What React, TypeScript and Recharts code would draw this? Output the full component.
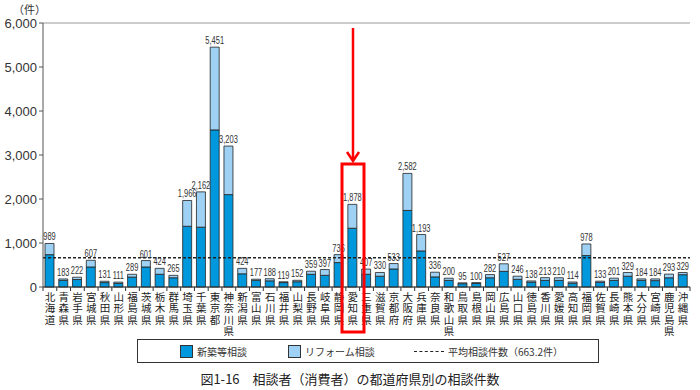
import React from "react";
import {
  BarChart,
  Bar,
  XAxis,
  YAxis,
  CartesianGrid,
  ReferenceLine,
  LabelList,
} from "recharts";

const prefectures = [
  "北海道", "青森県", "岩手県", "宮城県", "秋田県", "山形県", "福島県", "茨城県",
  "栃木県", "群馬県", "埼玉県", "千葉県", "東京都", "神奈川県", "新潟県", "富山県",
  "石川県", "福井県", "山梨県", "長野県", "岐阜県", "静岡県", "愛知県", "三重県",
  "滋賀県", "京都府", "大阪府", "兵庫県", "奈良県", "和歌山県", "鳥取県", "島根県",
  "岡山県", "広島県", "山口県", "徳島県", "香川県", "愛媛県", "高知県", "福岡県",
  "佐賀県", "長崎県", "熊本県", "大分県", "宮崎県", "鹿児島県", "沖縄県",
];

// 新築等相談
const newBuild = [
  735, 150, 170, 455, 100, 80, 225, 455, 290, 210, 1380, 1360, 3570, 2100, 300, 150,
  140, 100, 120, 290, 265, 555, 1335, 290, 245, 410, 1740, 820, 230, 150, 75, 80,
  210, 355, 175, 110, 150, 150, 85, 715, 105, 150, 245, 150, 145, 210, 280,
];

// リフォーム相談
const reform = [
  254, 33, 52, 152, 31, 31, 64, 146, 134, 55, 586, 802, 1881, 1103, 124, 27,
  48, 19, 32, 69, 132, 181, 543, 117, 85, 123, 842, 373, 106, 50, 20, 20,
  72, 172, 71, 28, 63, 60, 29, 263, 28, 51, 84, 34, 39, 83, 49,
];

const yTicks = [0, 1000, 2000, 3000, 4000, 5000, 6000];
const average = 663.2;

const DARK = "#0098dc";
const LIGHT = "#9ed1f3";
const W = 700;
const H = 390;
const M = { top: 23, right: 10, left: 0, bottom: 0 };
const Y_W = 43;
const BAND = (W - M.left - M.right - Y_W) / prefectures.length;

const data = prefectures.map((name, i) => ({
  name,
  newBuild: newBuild[i],
  reform: reform[i],
  total: newBuild[i] + reform[i],
}));

const jp = '"Noto Sans CJK JP", "Noto Sans", sans-serif';
const sans = '"Liberation Sans", Arial, sans-serif';

function PrefTick(props: any) {
  const { x, payload, index } = props;
  const chars: string[] = payload.value.split("");
  const top = 287;
  return (
    <g>
      <line x1={x - BAND / 2} x2={x - BAND / 2} y1={top} y2={top + 4} stroke="#333" />
      {index === prefectures.length - 1 && (
        <line x1={x + BAND / 2} x2={x + BAND / 2} y1={top} y2={top + 4} stroke="#333" />
      )}
      {chars.map((c, i) => (
        <text
          key={i}
          x={x}
          y={top + 14 + i * 11.3}
          textAnchor="middle"
          fontSize={10.5}
          fontFamily={jp}
          fill="#222"
        >
          {c}
        </text>
      ))}
    </g>
  );
}

function TotalLabel(props: any) {
  const { x, y, width, index } = props;
  return (
    <text
      transform={`translate(${x + width / 2},${y - 3}) scale(0.68,1)`}
      textAnchor="middle"
      fontSize={11}
      fontFamily={sans}
      fill="#333"
    >
      {data[index].total.toLocaleString("en-US")}
    </text>
  );
}

export default function App() {
  return (
    <div style={{ position: "fixed", left: 0, top: 0, width: W, height: H, background: "#fff" }}>
      <BarChart width={W} height={H} data={data} margin={M}>
        <CartesianGrid vertical={false} stroke="#999" />
        <XAxis
          dataKey="name"
          interval={0}
          height={H - 287}
          tickLine={false}
          axisLine={{ stroke: "#333" }}
          tick={<PrefTick />}
        />
        <YAxis
          yAxisId="l"
          domain={[0, 6000]}
          ticks={yTicks}
          width={Y_W}
          tickSize={4}
          tickLine={{ stroke: "#555" }}
          axisLine={{ stroke: "#555" }}
          tickFormatter={(v: number) => v.toLocaleString("en-US")}
          tick={{ fontSize: 13, fill: "#333", fontFamily: sans }}
        />
        <YAxis
          yAxisId="r"
          orientation="right"
          domain={[0, 6000]}
          ticks={yTicks}
          width={0}
          tick={false}
          tickLine={false}
          axisLine={{ stroke: "#999" }}
        />
        <Bar
          yAxisId="l"
          dataKey="newBuild"
          stackId="a"
          fill={DARK}
          stroke="#222"
          strokeWidth={0.8}
          barSize={9}
          isAnimationActive={false}
        />
        <Bar
          yAxisId="l"
          dataKey="reform"
          stackId="a"
          fill={LIGHT}
          stroke="#222"
          strokeWidth={0.8}
          barSize={9}
          isAnimationActive={false}
        >
          <LabelList dataKey="total" content={<TotalLabel />} />
        </Bar>
        <ReferenceLine
          yAxisId="l"
          y={average}
          stroke="#222"
          strokeWidth={1.5}
          strokeDasharray="3 2"
        />
      </BarChart>

      <div style={{ position: "absolute", left: 13, top: 1, fontSize: 11, fontFamily: jp, color: "#333" }}>
        （件）
      </div>

      <svg width={W} height={H} style={{ position: "absolute", left: 0, top: 0, pointerEvents: "none" }}>
        <line x1={353} x2={353} y1={28} y2={160} stroke="#f00" strokeWidth={2.5} />
        <polyline points="347,152 353,161 359,152" fill="none" stroke="#f00" strokeWidth={2.5} />
        <rect x={342} y={164} width={22} height={168} fill="none" stroke="#f00" strokeWidth={3} />
      </svg>

      <div
        style={{
          position: "absolute",
          left: 137,
          top: 339,
          width: 460,
          height: 22,
          border: "1px solid #333",
          fontFamily: jp,
          fontSize: 10,
          color: "#333",
        }}
      >
        <div style={{ position: "absolute", left: 42, top: 5, width: 11, height: 11, background: DARK, border: "1px solid #333" }} />
        <div style={{ position: "absolute", left: 59, top: 4 }}>新築等相談</div>
        <div style={{ position: "absolute", left: 150, top: 5, width: 11, height: 11, background: LIGHT, border: "1px solid #333" }} />
        <div style={{ position: "absolute", left: 167, top: 4 }}>リフォーム相談</div>
        <div style={{ position: "absolute", left: 276, top: 11, width: 30, borderTop: "1.5px dashed #222" }} />
        <div style={{ position: "absolute", left: 310, top: 4 }}>平均相談件数（663.2件）</div>
      </div>

      <div
        style={{
          position: "absolute",
          left: 0,
          width: W,
          top: 369,
          textAlign: "center",
          fontFamily: jp,
          fontSize: 13,
          color: "#222",
        }}
      >
        図1-16　相談者（消費者）の都道府県別の相談件数
      </div>
    </div>
  );
}
